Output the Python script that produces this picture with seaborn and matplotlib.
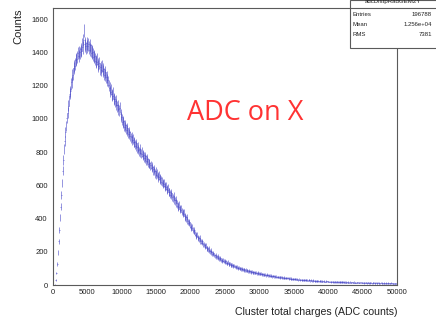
"""
ADC cluster charge distribution (ROOT-style histogram) redrawn with seaborn/matplotlib.
"""

import numpy as np
import matplotlib
matplotlib.use("Agg")
import matplotlib.pyplot as plt
import matplotlib.ticker as mticker
from matplotlib.patches import Rectangle
from matplotlib.lines import Line2D
import seaborn as sns

# ── Data: counts per 100-ADC bin, 0 .. 50000 ────────────────────────────────
hist_name = "adcDistpRadGEM2Y"
stat_labels = ["Entries", "Mean", "RMS"]
stat_values = ["196788", "1.256e+04", "7381"]

bin_lo = 0
bin_width = 100
bin_counts = [
    0, 0, 0, 3, 28, 72, 128, 195, 262, 330, 405, 472, 540, 615, 688, 752, 818, 866, 921, 958,
    1004, 1038, 1079, 1108, 1152, 1166, 1210, 1221, 1262, 1270, 1305, 1318, 1331, 1352, 1360, 1374, 1395, 1378, 1402, 1396,
    1418, 1409, 1447, 1430, 1474, 1531, 1452, 1441, 1426, 1455, 1436, 1448, 1429, 1416, 1443, 1410, 1398, 1404, 1388, 1372,
    1380, 1361, 1349, 1342, 1358, 1328, 1320, 1336, 1301, 1312, 1292, 1318, 1286, 1297, 1268, 1263, 1284, 1249, 1252, 1233,
    1224, 1201, 1186, 1163, 1178, 1148, 1139, 1156, 1122, 1118, 1104, 1110, 1086, 1076, 1083, 1058, 1049, 1066, 1028, 1012,
    996, 978, 985, 960, 952, 964, 938, 930, 942, 915, 908, 918, 895, 884, 890, 872, 880, 858, 862, 846,
    838, 852, 826, 832, 815, 804, 818, 796, 790, 801, 778, 785, 770, 762, 774, 752, 748, 760, 736, 730,
    734, 716, 722, 704, 712, 690, 698, 686, 672, 684, 662, 670, 655, 648, 660, 636, 641, 628, 622, 615,
    606, 612, 594, 588, 598, 576, 570, 582, 558, 562, 548, 541, 553, 530, 524, 535, 512, 506, 514, 494,
    488, 476, 470, 481, 458, 452, 462, 440, 434, 428, 436, 414, 408, 399, 410, 388, 380, 372, 378, 360,
    352, 342, 348, 330, 322, 328, 310, 302, 296, 304, 286, 280, 276, 284, 266, 260, 254, 262, 246, 242,
    238, 230, 236, 222, 218, 212, 220, 204, 200, 206, 196, 190, 186, 192, 180, 176, 182, 170, 168, 172,
    164, 160, 158, 162, 152, 150, 146, 152, 142, 140, 144, 136, 134, 130, 136, 128, 126, 130, 122, 120,
    122, 118, 114, 118, 110, 112, 106, 108, 104, 100, 104, 98, 100, 96, 94, 98, 92, 90, 94, 88,
    90, 86, 88, 84, 86, 82, 80, 84, 78, 80, 76, 78, 74, 77, 72, 74, 70, 73, 68, 71,
    70, 66, 68, 64, 66, 62, 65, 60, 63, 58, 62, 59, 57, 60, 55, 58, 54, 57, 52, 55,
    54, 51, 53, 49, 52, 48, 50, 47, 49, 45, 48, 46, 44, 47, 43, 45, 42, 44, 41, 43,
    42, 40, 41, 38, 40, 37, 39, 36, 38, 35, 37, 36, 34, 36, 33, 35, 32, 34, 33, 31,
    33, 31, 32, 30, 32, 29, 31, 28, 30, 29, 27, 30, 28, 26, 29, 27, 25, 28, 26, 27,
    26, 24, 25, 23, 26, 24, 22, 25, 23, 24, 21, 23, 22, 24, 21, 22, 20, 23, 21, 22,
    21, 20, 22, 19, 21, 20, 18, 21, 19, 20, 18, 19, 17, 20, 18, 19, 17, 18, 19, 17,
    18, 17, 16, 18, 17, 15, 17, 16, 18, 15, 16, 17, 15, 16, 14, 16, 15, 17, 14, 15,
    15, 14, 16, 13, 15, 14, 16, 13, 14, 15, 13, 14, 12, 15, 13, 14, 12, 13, 14, 12,
    13, 12, 14, 11, 13, 12, 14, 12, 11, 13, 12, 11, 13, 10, 12, 11, 13, 11, 12, 10,
    11, 12, 10, 12, 11, 10, 12, 11, 9, 11, 10, 12, 10, 11, 9, 10, 11, 9, 10, 11,
]

x_label = "Cluster total charges (ADC counts)"
y_label = "Counts"
note = "ADC on X"

# ── Style ────────────────────────────────────────────────────────────────────
sns.set_theme(style="white")
plt.rcParams["font.family"] = ["Liberation Sans", "DejaVu Sans"]
axis_grey = "#5a5a5a"
text_col = "#222222"

W, H = 436, 321
def fx(px):
    return px / W
def fy(py):
    return 1 - py / H

fig = plt.figure(figsize=(W / 100, H / 100), dpi=100)
fig.patch.set_facecolor("white")
ax = fig.add_axes([fx(52.7), fy(285), (397 - 52.7) / W, (285 - 7.5) / H])

counts = np.array(bin_counts, dtype=float)
centers = bin_lo + bin_width * (np.arange(len(counts)) + 0.5)
mask = counts > 0
ax.errorbar(centers[mask], counts[mask], yerr=np.sqrt(counts[mask]),
            xerr=bin_width / 2, fmt="none", ecolor="#3a3ac4",
            elinewidth=0.5, alpha=0.75, capsize=0)

ax.set_xlim(0, 50000)
ax.set_ylim(0, 1670)

ax.xaxis.set_major_locator(mticker.MultipleLocator(5000))
ax.xaxis.set_minor_locator(mticker.MultipleLocator(1000))
ax.yaxis.set_major_locator(mticker.MultipleLocator(200))
ax.yaxis.set_minor_locator(mticker.MultipleLocator(50))

ax.tick_params(axis="x", which="major", direction="in", length=5.8, width=0.7,
               color=axis_grey, labelsize=5.5, pad=3, top=False, labelcolor=text_col)
ax.tick_params(axis="x", which="minor", direction="in", length=2.9, width=0.6,
               color=axis_grey, top=False)
ax.tick_params(axis="y", which="major", direction="in", length=7.2, width=0.7,
               color=axis_grey, labelsize=5.5, pad=3.5, right=False, labelcolor=text_col)
ax.tick_params(axis="y", which="minor", direction="in", length=3.6, width=0.6,
               color=axis_grey, right=False)

for sp in ax.spines.values():
    sp.set_color(axis_grey)
    sp.set_linewidth(0.8)

fig.text(fx(397), fy(312), x_label, ha="right", va="center", fontsize=7.6, color=text_col)
fig.text(fx(18), fy(8), y_label, ha="center", va="top", rotation=90, fontsize=8, color=text_col)

fig.text(fx(187), fy(120), note, ha="left", va="baseline", fontsize=19.5,
         color="#ff3333", family=["Open Sans", "DejaVu Sans"])

# ── Stats box (top right, partly off the canvas) ─────────────────────────────
box_left, box_bottom = 349.5, 48
fig.add_artist(Rectangle((fx(box_left), fy(box_bottom)), (W + 5 - box_left) / W, box_bottom / H,
                         transform=fig.transFigure, facecolor="white",
                         edgecolor=axis_grey, linewidth=0.8, zorder=5))
fig.add_artist(Line2D([fx(box_left), fx(W + 2)], [fy(7.5), fy(7.5)],
                      transform=fig.transFigure, color=axis_grey, linewidth=0.8, zorder=6))
fig.text(fx(393), fy(2), hist_name, ha="center", va="center", fontsize=4.4,
         color=text_col, zorder=7)
for i, (lab, val) in enumerate(zip(stat_labels, stat_values)):
    yy = 15 + 9.5 * i
    fig.text(fx(352), fy(yy), lab, ha="left", va="center", fontsize=4.3, color=text_col, zorder=7)
    fig.text(fx(432), fy(yy), val, ha="right", va="center", fontsize=4.3, color=text_col, zorder=7)

fig.savefig("out.png", dpi=100, facecolor="white")
